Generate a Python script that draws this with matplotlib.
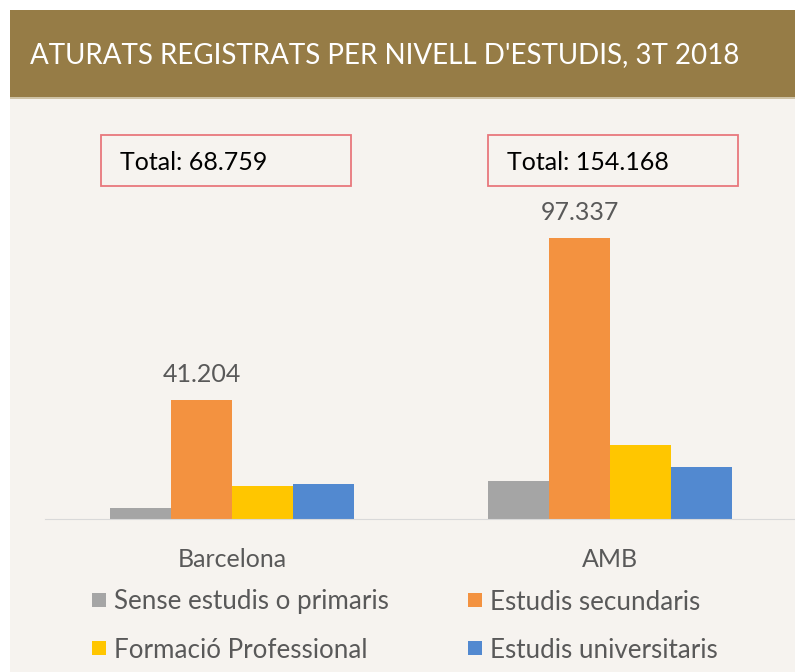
import matplotlib.pyplot as plt
from matplotlib.patches import Rectangle

# data
territories = ["Barcelona", "AMB"]
levels = ["Sense estudis o primaris", "Estudis secundaris",
          "Formació Professional", "Estudis universitaris"]
sense_estudis = [3900, 13150]
secundaris = [41204, 97337]
formacio_prof = [11450, 25600]
universitaris = [12205, 18081]

colors = ["#A5A5A5", "#F39240", "#FFC600", "#5289D0"]
bg = "#F6F3EF"
txt_grey = "#595959"
FONT = "Lato"

W, H = 795, 672
fig = plt.figure(figsize=(W / 100, H / 100), dpi=100, facecolor="white")


def fx(px):
    return px / W


def fy(py):
    return 1 - py / H


# body background and header band
fig.patches.append(Rectangle((fx(10), 0), 1, fy(97), transform=fig.transFigure,
                             facecolor=bg, edgecolor="none", zorder=-2))
fig.patches.append(Rectangle((fx(10), fy(99)), 1, 2 / H, transform=fig.transFigure,
                             facecolor="#CFC3A6", edgecolor="none", zorder=-1))
fig.patches.append(Rectangle((fx(10), fy(97)), 1, 87 / H, transform=fig.transFigure,
                             facecolor="#967C46", edgecolor="none", zorder=-1))
fig.text(fx(30), fy(55), "ATURATS REGISTRATS PER NIVELL D'ESTUDIS, 3T 2018",
         color="white", fontsize=20, family=FONT, va="center", ha="left")

ax = fig.add_axes([fx(45), fy(519), fx(795) - fx(45), (519 - 110) / H])
ax.set_zorder(5)
ax.set_facecolor("none")
ax.set_xlim(-0.495, 1.489)
ax.set_ylim(0, 409 * 346)

series = [sense_estudis, secundaris, formacio_prof, universitaris]
bw = 0.161
xs = [0, 1]
for i, (vals, col) in enumerate(zip(series, colors)):
    pos = [x + (i - 1.5) * bw for x in xs]
    bars = ax.bar(pos, vals, width=bw, color=col, label=levels[i], zorder=2)
    if i == 1:
        for b, v in zip(bars, vals):
            ax.text(b.get_x() + b.get_width() / 2, v + 4800, f"{v:,}".replace(",", "."),
                    ha="center", va="bottom", fontsize=18, color=txt_grey, family=FONT)

for s in ["top", "right", "left"]:
    ax.spines[s].set_visible(False)
ax.spines["bottom"].set_color("#D9D9D9")
ax.set_yticks([])
ax.set_xticks(xs)
ax.set_xticklabels(territories, fontsize=18, color=txt_grey, family=FONT)
ax.tick_params(axis="x", length=0, pad=21)

# total boxes
totals = [sum(v) for v in zip(*series)]
box_x = [101, 488]
for bx, t in zip(box_x, totals):
    fig.patches.append(Rectangle((fx(bx), fy(186)), 250 / W, 51 / H, transform=fig.transFigure,
                                 facecolor="none", edgecolor="#E8787C", lw=1.3, zorder=3))
    fig.text(fx(bx + 19), fy(163), "Total: " + f"{t:,}".replace(",", "."),
             fontsize=18, color="black", family=FONT, va="center", ha="left")

# legend
leg_pos = [(92, 601), (468, 601), (92, 649), (468, 649)]
for (lx, ly), lab, col in zip(leg_pos, levels, colors):
    fig.patches.append(Rectangle((fx(lx), fy(ly + 6)), 14 / W, 14 / H, transform=fig.transFigure,
                                 facecolor=col, edgecolor="none", zorder=3))
    fig.text(fx(lx + 22), fy(ly + 1), lab, fontsize=18.7, color=txt_grey, family=FONT,
             va="center", ha="left")

fig.savefig("out.png", dpi=100, facecolor="white")
